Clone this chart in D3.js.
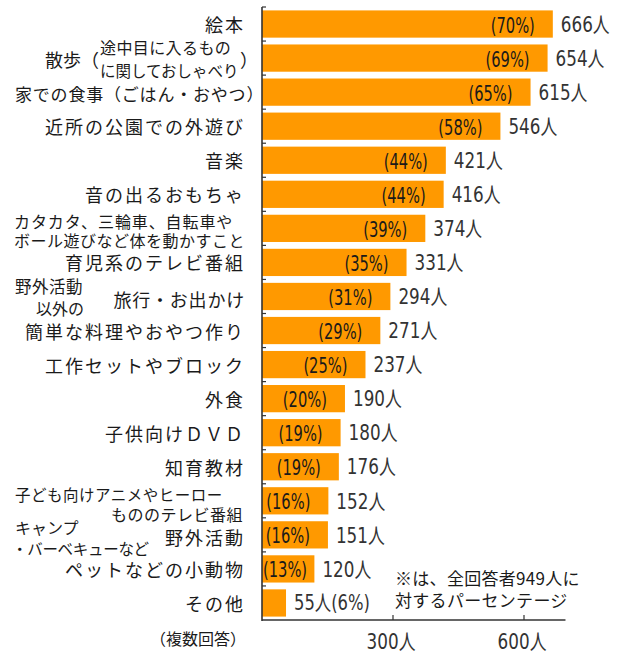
<!DOCTYPE html>
<html><head><meta charset="utf-8">
<script src="https://cdn.jsdelivr.net/npm/d3@7"></script>
<style>
html,body{margin:0;padding:0;background:#fff;}
svg{display:block;}
</style></head>
<body>
<script>
// ---- data ----
const categories = [
  "絵本",
  "散歩（途中目に入るものに関しておしゃべり）",
  "家での食事（ごはん・おやつ）",
  "近所の公園での外遊び",
  "音楽",
  "音の出るおもちゃ",
  "カタカタ、三輪車、自転車やボール遊びなど体を動かすこと",
  "育児系のテレビ番組",
  "野外活動以外の旅行・お出かけ",
  "簡単な料理やおやつ作り",
  "工作セットやブロック",
  "外食",
  "子供向けＤＶＤ",
  "知育教材",
  "子ども向けアニメやヒーローもののテレビ番組",
  "キャンプ・バーベキューなど野外活動",
  "ペットなどの小動物",
  "その他"
];
const counts   = [666, 654, 615, 546, 421, 416, 374, 331, 294, 271, 237, 190, 180, 176, 152, 151, 120, 55];
const percents = [70, 69, 65, 58, 44, 44, 39, 35, 31, 29, 25, 20, 19, 19, 16, 16, 13, 6];
const xTicks = [300, 600];
const xTickLabels = ["300人", "600人"];
const unit = "人";
const noteLines = ["※は、全回答者949人に", "対するパーセンテージ"];
const footnote = "（複数回答）";

// ---- label layout (presentation only) ----
const CJK = "'Noto Sans CJK JP', sans-serif";
const NUM = "'DejaVu Sans', 'Noto Sans CJK JP', sans-serif";
const labelLayout = {
  1: [
    {t: "散歩（", x: 45, dy: 1, anchor: "start", size: 18, ls: 0},
    {t: "途中目に入るもの", x: 100, dy: -11.5, anchor: "start", size: 16, ls: 0.4},
    {t: "に関しておしゃべり", x: 100, dy: 11.5, anchor: "start", size: 15.5, ls: 0},
    {t: "）", x: 240, dy: 1, anchor: "start", size: 18, ls: 0}
  ],
  2: [ {t: "家での食事（ごはん・おやつ）", x: 15, dy: 1, anchor: "start", size: 17, ls: 0.8} ],
  6: [
    {t: "カタカタ、三輪車、自転車や", x: 14, dy: -7.5, anchor: "start", size: 16, ls: 0.9},
    {t: "ボール遊びなど体を動かすこと", x: 14, dy: 11.5, anchor: "start", size: 16, ls: 0.5}
  ],
  8: [
    {t: "野外活動", x: 15, dy: -10, anchor: "start", size: 16.5, ls: 0.5},
    {t: "以外の", x: 84, dy: 12, anchor: "end", size: 16, ls: 0},
    {t: "旅行・お出かけ", x: 245, dy: 3, anchor: "end", size: 18, ls: 0.8}
  ],
  14: [
    {t: "子ども向けアニメやヒーロー", x: 15, dy: -6.5, anchor: "start", size: 15.5, ls: 0.5},
    {t: "もののテレビ番組", x: 243, dy: 13.5, anchor: "end", size: 16, ls: 0.5}
  ],
  15: [
    {t: "キャンプ", x: 15, dy: -8, anchor: "start", size: 16, ls: 0},
    {t: "・バーベキューなど", x: 12, dy: 13.5, anchor: "start", size: 15.5, ls: -0.3},
    {t: "野外活動", x: 245, dy: 2, anchor: "end", size: 18, ls: 2}
  ]
};

const W = 617, H = 651;
const svg = d3.select("body").append("svg").attr("width", W).attr("height", H);
svg.append("rect").attr("width", W).attr("height", H).attr("fill", "#fff");

const x = d3.scaleLinear().domain([0, 600]).range([262, 524]);
const y = d3.scaleBand().domain(categories).range([7, 620]).paddingInner(0.2).paddingOuter(0.1);
const axisMax = 695;

// bars
svg.append("g").selectAll("rect").data(categories).join("rect")
  .attr("x", x(0))
  .attr("y", d => y(d))
  .attr("width", (d, i) => x(counts[i]) - x(0))
  .attr("height", y.bandwidth())
  .attr("fill", "#FF9900");

// axes
const axisColor = "#333";
svg.append("line").attr("x1", x(0)).attr("x2", x(0)).attr("y1", y.range()[0]).attr("y2", y.range()[1] + 1)
  .attr("stroke", axisColor).attr("stroke-width", 1.6);
svg.append("line").attr("x1", x(0)).attr("x2", x(axisMax)).attr("y1", y.range()[1]).attr("y2", y.range()[1])
  .attr("stroke", axisColor).attr("stroke-width", 1.6);
// left ticks at band boundaries
const step = y.step();
svg.append("g").selectAll("line").data(categories).join("line")
  .attr("x1", x(0)).attr("x2", x(0) + 4)
  .attr("y1", (d, i) => y.range()[0] + i * step)
  .attr("y2", (d, i) => y.range()[0] + i * step)
  .attr("stroke", axisColor).attr("stroke-width", 1.2);
// bottom ticks
svg.append("g").selectAll("line").data(xTicks).join("line")
  .attr("x1", d => x(d)).attr("x2", d => x(d))
  .attr("y1", y.range()[1] - 5).attr("y2", y.range()[1])
  .attr("stroke", axisColor).attr("stroke-width", 1.2);

function numText(px, py, str, anchor, sx, color) {
  const g = svg.append("g").attr("transform", `translate(${px},${py}) scale(${sx},1)`);
  const t = g.append("text").attr("text-anchor", anchor).attr("dominant-baseline", "central")
    .style("font-family", NUM).style("font-size", "21px").attr("fill", color).text(str);
  return t;
}

xTicks.forEach((v, i) => {
  numText(x(v) - 2, 641, xTickLabels[i], "middle", 0.8, "#333");
});

// category labels
categories.forEach((c, i) => {
  const cy = y(c) + y.bandwidth() / 2;
  const parts = labelLayout[i] || [{t: c, x: 245, dy: 0, anchor: "end", size: 18, ls: 2}];
  parts.forEach(p => {
    svg.append("text")
      .attr("x", p.x).attr("y", cy + p.dy)
      .attr("text-anchor", p.anchor).attr("dominant-baseline", "central")
      .style("font-family", CJK).style("font-size", p.size + "px")
      .style("letter-spacing", p.ls + "px")
      .attr("fill", "#1a1a1a").text(p.t);
  });
});

// value labels
categories.forEach((c, i) => {
  const cy = y(c) + y.bandwidth() / 2;
  const barEnd = x(counts[i]);
  if (i === categories.length - 1) {
    numText(barEnd + 8, cy, counts[i] + unit + "(" + percents[i] + "%)", "start", 0.78, "#333");
    return;
  }
  numText(barEnd + 8, cy, counts[i] + unit, "start", 0.8, "#333");
  const sx = 0.7;
  const tmp = numText(0, -100, "(" + percents[i] + "%)", "end", sx, "#1a1a1a");
  const w = tmp.node().getComputedTextLength() * sx;
  tmp.node().parentNode.remove();
  const endX = Math.max(barEnd - 18, x(0) + 1 + w);
  numText(endX, cy + 1, "(" + percents[i] + "%)", "end", sx, "#1a1a1a");
});

// note
noteLines.forEach((l, i) => {
  svg.append("text").attr("x", 395).attr("y", 577 + i * 22)
    .attr("dominant-baseline", "central")
    .style("font-family", CJK).style("font-size", "17px").style("letter-spacing", "0.3px")
    .attr("fill", "#1a1a1a").text(l);
});

// footnote
svg.append("text").attr("x", 246).attr("y", 638)
  .attr("text-anchor", "end").attr("dominant-baseline", "central")
  .style("font-family", CJK).style("font-size", "16px")
  .attr("fill", "#1a1a1a").text(footnote);
</script>
</body></html>
